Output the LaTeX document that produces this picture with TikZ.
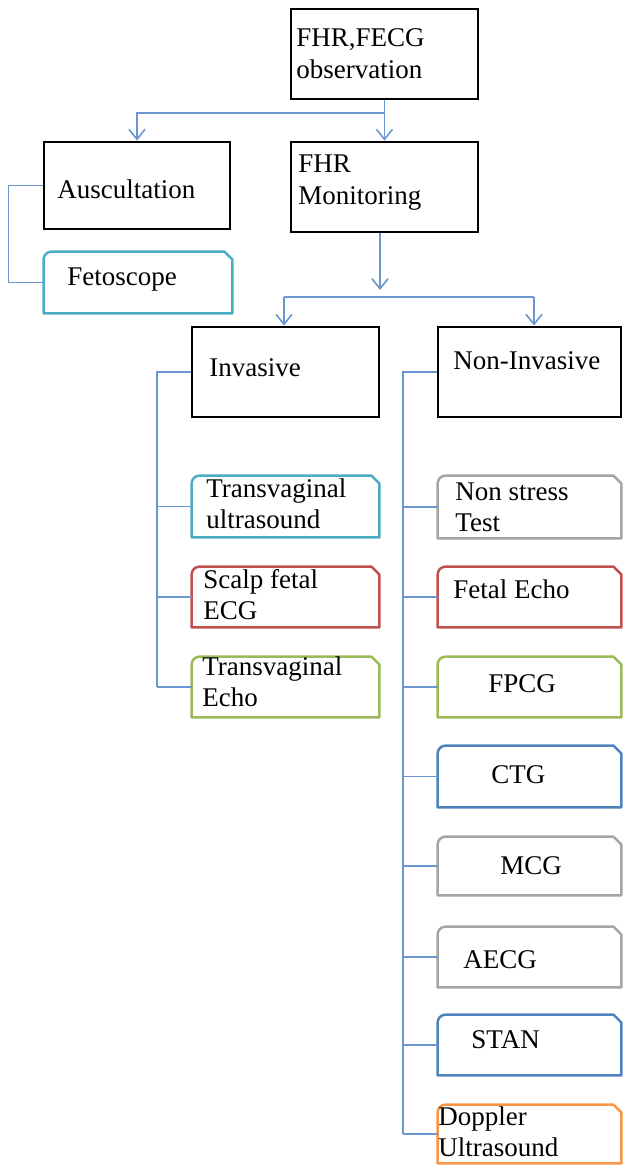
\documentclass[tikz,border=0pt]{standalone}
\usepackage{fontspec}
\setmainfont{Liberation Serif}
\usetikzlibrary{arrows.meta}
\definecolor{cline}{HTML}{6A97CF}
\definecolor{caqua}{HTML}{4BACC6}
\definecolor{cred}{HTML}{C0504D}
\definecolor{cgreen}{HTML}{9BBB59}
\definecolor{cblue}{HTML}{4F81BD}
\definecolor{cgray}{HTML}{A5A5A5}
\definecolor{corange}{HTML}{F79646}
\newcommand\tabshape[2]{\draw[#2, line width=1.25pt, line join=round] (#1.south west) -- ([yshift=-4pt]#1.north west) arc[start angle=180,end angle=90,radius=4pt] -- ([xshift=-4pt]#1.north east) -- ([yshift=-4pt]#1.north east) -- (#1.south east) -- cycle;}
\tikzset{
  bbox/.style={draw=black, line width=1.4pt, inner sep=0pt, minimum width=93.5pt},
  tbox/.style={draw=none, inner sep=0pt},
  lft/.style={minimum width=93.5pt},
  rgt/.style={minimum width=91.5pt},
  conn/.style={draw=cline, line width=0.8pt},
  arr/.style={conn, -{Straight Barb[length=5pt,width=8pt,line width=0.8pt]}},
  lbl/.style={anchor=base west, inner sep=0pt, font=\fontsize{13.5}{15.6}\selectfont},
}
\begin{document}
\begin{tikzpicture}[x=0.5pt,y=-0.5pt]
\useasboundingbox (0,0) rectangle (622,1165);
% black boxes
\node[bbox, minimum height=45pt] (top) at (384.5,54) {};
\node[bbox, minimum width=93pt, minimum height=43.5pt] (ausc) at (137,185.5) {};
\node[bbox, minimum height=45pt] (mon) at (384.5,187) {};
\node[bbox, minimum height=45pt] (inv) at (285.5,372) {};
\node[bbox, minimum width=91.5pt, minimum height=45pt] (ni) at (529.5,372) {};
% tab boxes
\node[tbox, minimum width=94pt, minimum height=30.5pt] (feto) at (138,282.5) {};
\node[tbox, lft, minimum height=30.5pt] (tu) at (285.5,506.5) {};
\node[tbox, lft, minimum height=30pt] (sf) at (285.5,597) {};
\node[tbox, lft, minimum height=30pt] (te) at (285.5,687) {};
\node[tbox, rgt, minimum height=31pt] (ns) at (529.5,507) {};
\node[tbox, rgt, minimum height=30pt] (fe) at (529.5,597) {};
\node[tbox, rgt, minimum height=30pt] (fpcg) at (529.5,687) {};
\node[tbox, rgt, minimum height=30.5pt] (ctg) at (529.5,776.5) {};
\node[tbox, rgt, minimum height=29pt] (mcg) at (529.5,866) {};
\node[tbox, rgt, minimum height=30pt] (aecg) at (529.5,957) {};
\node[tbox, rgt, minimum height=30pt] (stan) at (529.5,1045) {};
\node[tbox, rgt, minimum height=29pt] (dop) at (529.5,1134) {};
\tabshape{feto}{caqua}
\tabshape{tu}{caqua}
\tabshape{sf}{cred}
\tabshape{te}{cgreen}
\tabshape{ns}{cgray}
\tabshape{fe}{cred}
\tabshape{fpcg}{cgreen}
\tabshape{ctg}{cblue}
\tabshape{mcg}{cgray}
\tabshape{aecg}{cgray}
\tabshape{stan}{cblue}
\tabshape{dop}{corange}
% labels
\node[lbl] (ltop) at (296,47) {\vtop{\hbox{FHR,FECG}\hbox{observation}}};
\node[lbl] (lausc) at (57,199) {Auscultation};
\node[lbl] (lmon) at (298,173) {\vtop{\hbox{FHR}\hbox{Monitoring}}};
\node[lbl] (lfeto) at (67,286) {Fetoscope};
\node[lbl] (linv) at (209,377) {Invasive};
\node[lbl] (lni) at (453,370) {Non-Invasive};
\node[lbl] (ltu) at (206,497) {\vtop{\hbox{Transvaginal}\hbox{ultrasound}}};
\node[lbl] (lsf) at (203,588) {\vtop{\hbox{Scalp fetal}\hbox{ECG}}};
\node[lbl] (lte) at (202,675) {\vtop{\hbox{Transvaginal}\hbox{Echo}}};
\node[lbl] (lns) at (455,500) {\vtop{\hbox{Non stress}\hbox{Test}}};
\node[lbl] (lfe) at (453,598) {Fetal Echo};
\node[lbl] (lfpcg) at (488,692) {FPCG};
\node[lbl] (lctg) at (491,783) {CTG};
\node[lbl] (lmcg) at (500,874) {MCG};
\node[lbl] (laecg) at (463,968) {AECG};
\node[lbl] (lstan) at (471,1048) {STAN};
\node[lbl] (ldop) at (438,1125) {\vtop{\hbox{Doppler}\hbox{Ultrasound}}};
% connectors
\coordinate (j1) at (384.5,113);
\draw[conn] (top.south) -- (j1);
\draw[arr] (j1) -| (ausc.north);
\draw[arr] (j1) -- (mon.north);
\draw[conn] (ausc.west) -- ++(-34,0) |- (feto.west);
\coordinate (h1) at (380,290);
\coordinate (hl) at (284,297);
\coordinate (hr) at (534,297);
\draw[arr] (mon.south -| h1) -- (h1);
\draw[conn] (hl) -- (hr);
\draw[arr] (hl) -- (hl |- inv.north);
\draw[arr] (hr) -- (hr |- ni.north);
\coordinate (vb1) at (157,687);
\draw[conn] (inv.west) -| (vb1);
\draw[conn] (tu.west) -- (tu.west -| vb1);
\draw[conn] (sf.west) -- (sf.west -| vb1);
\draw[conn] (te.west) -- (te.west -| vb1);
\coordinate (vb2) at (403,1134);
\draw[conn] (ni.west) -| (vb2);
\foreach \n in {ns,fe,fpcg,ctg,mcg,aecg,stan,dop}
  \draw[conn] (\n.west) -- (\n.west -| vb2);
\end{tikzpicture}
\end{document}
